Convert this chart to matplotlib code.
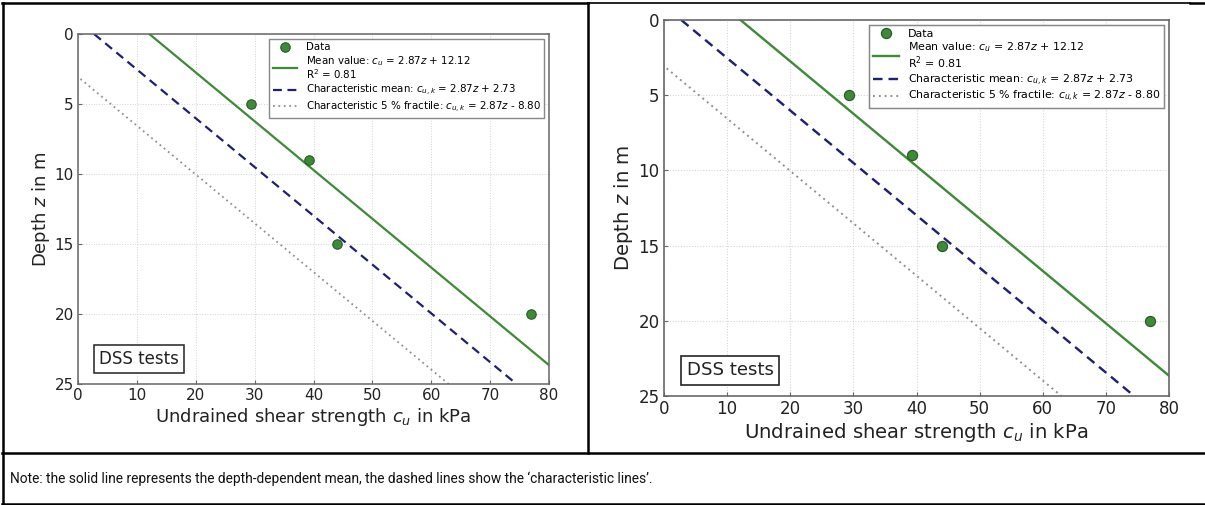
import matplotlib
matplotlib.use("Agg")
import matplotlib.pyplot as plt
from matplotlib.lines import Line2D
import numpy as np

# ---- data ----
data_cu = [29.3, 39.3, 44.0, 77.0]
data_z = [5, 9, 15, 20]
slope = 2.87
mean_intercept = 12.12
char_mean_intercept = 2.73
char_frac_intercept = -8.80
z_line = [0, 25]
x_ticks = [0, 10, 20, 30, 40, 50, 60, 70, 80]
y_ticks = [0, 5, 10, 15, 20, 25]

label_data = "Data"
label_mean = "Mean value: $c_u$ = 2.87$z$ + 12.12\nR$^2$ = 0.81"
label_cmean = "Characteristic mean: $c_{u,k}$ = 2.87$z$ + 2.73"
label_cfrac = "Characteristic 5 % fractile: $c_{u,k}$ = 2.87$z$ - 8.80"
note = "Note: the solid line represents the depth-dependent mean, the dashed lines show the \u2018characteristic lines\u2019."

W, H = 1205, 505
fig = plt.figure(figsize=(W / 100, H / 100), dpi=100)
fig.patch.set_facecolor("white")

GREEN = "#3d8b37"
NAVY = "#1f1f75"
GREY = "#909090"


def px_rect(x0, y0, x1, y1):
    return [x0 / W, 1 - y1 / H, (x1 - x0) / W, (y1 - y0) / H]


def draw_panel(rect, s, fs, legfs):
    ax = fig.add_axes(rect)
    zz = np.array(z_line, dtype=float)
    ax.grid(True, color="#d4d4d4", lw=0.7 * s, ls=":")
    ax.set_axisbelow(True)
    ax.plot(slope * zz + char_frac_intercept, zz, ls=(0, (1, 2)), color=GREY, lw=1.3 * s, label=label_cfrac)
    ax.plot(slope * zz + char_mean_intercept, zz, ls=(0, (4, 2.5)), color=NAVY, lw=1.6 * s, label=label_cmean)
    ax.plot(slope * zz + mean_intercept, zz, ls="-", color=GREEN, lw=1.6 * s, label=label_mean)
    ax.plot(data_cu, data_z, "o", ms=6.8 * s, mfc=GREEN, mec="#2a5a2a", mew=0.8 * s, label=label_data, zorder=5)
    ax.set_xlim(0, 80)
    ax.set_ylim(25, 0)
    ax.set_xticks(x_ticks)
    ax.set_yticks(y_ticks)
    ax.tick_params(direction="in", labelsize=11 * fs, length=3 * s, color="#666666", labelcolor="#222222", pad=3 * s)
    for sp in ax.spines.values():
        sp.set_color("#666666")
        sp.set_linewidth(1.1 * s)
    ax.set_xlabel("Undrained shear strength $c_u$ in kPa", fontsize=13 * fs, color="#222222", labelpad=2 * s)
    ax.set_ylabel("Depth $z$ in m", fontsize=13 * fs, color="#222222", labelpad=2 * s)
    h, l = ax.get_legend_handles_labels()
    order = [3, 2, 1, 0]
    leg = ax.legend([h[i] for i in order], [l[i] for i in order], loc="upper right", fontsize=legfs,
                    fancybox=False, framealpha=1, edgecolor="#888888", handlelength=2.4,
                    borderaxespad=0.45, labelspacing=0.15, handletextpad=0.8, borderpad=0.35)
    leg.get_frame().set_linewidth(1.0 * s)
    for t in leg.get_texts():
        t.set_linespacing(1.0)
    ax.text(0.045, 0.045, "DSS tests", transform=ax.transAxes, fontsize=12 * fs, color="#222222",
            ha="left", va="bottom",
            bbox=dict(boxstyle="square,pad=0.3", fc="white", ec="#222222", lw=1.1 * s), zorder=6)
    return ax


draw_panel(px_rect(78, 34, 549, 384), 1.0, 1.0, 7.4)
draw_panel(px_rect(664, 20, 1169, 396), 1.074, 1.09, 7.9)


def hline(y, x0, x1, lw=1.8):
    fig.add_artist(Line2D([x0 / W, x1 / W], [1 - y / H, 1 - y / H], color="black", lw=lw))


def vline(x, y0, y1, lw=1.8):
    fig.add_artist(Line2D([x / W, x / W], [1 - y0 / H, 1 - y1 / H], color="black", lw=lw))


hline(3, 2, 588)
hline(2.5, 588, 1190, lw=1.2)
hline(3, 1190, 1205)
hline(453, 2, 1205)
hline(504, 2, 1205)
vline(2.5, 3, 504)
vline(588, 3, 453)

fig.text(10 / W, 1 - 479 / H, note, fontsize=9.9, family=["Roboto", "DejaVu Sans"],
         color="#111111", ha="left", va="center")

fig.savefig("out.png", dpi=100, facecolor="white")
